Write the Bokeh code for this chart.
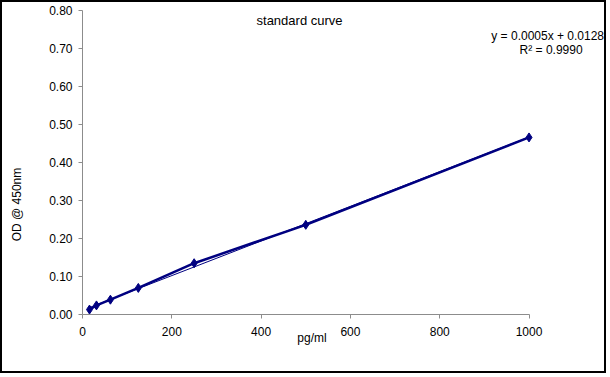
import numpy as np
from bokeh.plotting import figure
from bokeh.models import Range1d, Label, NumeralTickFormatter, FixedTicker
from bokeh.embed import file_html
from bokeh.resources import INLINE

# data
conc = [15.625, 31.25, 62.5, 125, 250, 500, 1000]
od = [0.013, 0.024, 0.039, 0.070, 0.135, 0.236, 0.466]
x_ticks = [0, 200, 400, 600, 800, 1000]
y_ticks = [0.0, 0.1, 0.2, 0.3, 0.4, 0.5, 0.6, 0.7, 0.8]
title_text = "standard curve"
eq_text = "y = 0.0005x + 0.0128"
r2_text = "R² = 0.9990"
x_label = "pg/ml"
y_label = "OD @ 450nm"

FONT = "Liberation Sans"
NAVY = "#000080"

p = figure(width=606, height=373, output_backend="svg", toolbar_location=None,
           x_range=Range1d(-179.2, 1178.0), y_range=Range1d(-0.1605, 0.8211),
           min_border_left=0, min_border_right=0, min_border_top=0, min_border_bottom=0)
p.styles = {"border": "2px solid black"}
p.outline_line_color = None
p.xgrid.visible = False
p.ygrid.visible = False
p.background_fill_color = "white"

for ax in (p.xaxis[0], p.yaxis[0]):
    ax.axis_line_color = "#8c8c8c"
    ax.major_tick_line_color = "#8c8c8c"
    ax.minor_tick_line_color = None
    ax.major_tick_in = 0
    ax.major_tick_out = 4
    ax.major_label_text_font = FONT
    ax.major_label_text_font_size = "12px"
    ax.major_label_text_color = "black"
    ax.fixed_location = 0

p.xaxis[0].ticker = FixedTicker(ticks=x_ticks)
p.xaxis[0].bounds = (x_ticks[0], x_ticks[-1])
p.yaxis[0].ticker = FixedTicker(ticks=y_ticks)
p.yaxis[0].bounds = (y_ticks[0], y_ticks[-1])
p.yaxis[0].formatter = NumeralTickFormatter(format="0.00")
p.xaxis[0].major_label_standoff = 8
p.yaxis[0].major_label_standoff = 6

# trendline from linear fit
coef = np.polyfit(conc, od, 1)
tx = [conc[0], conc[-1]]
ty = [coef[0] * v + coef[1] for v in tx]
p.line(tx, ty, line_color=NAVY, line_width=1)

p.line(conc, od, line_color=NAVY, line_width=2.5)
p.scatter(conc, od, marker="diamond", size=9, fill_color=NAVY, line_color=NAVY)

p.add_layout(Label(x=486, y=0.775, text=title_text, text_font=FONT, text_font_size="13px",
                   text_align="center", text_baseline="middle", text_color="black"))
p.add_layout(Label(x=1168, y=0.733, text=eq_text, text_font=FONT, text_font_size="12px",
                   text_align="right", text_baseline="middle", text_color="black"))
p.add_layout(Label(x=1120, y=0.697, text=r2_text, text_font=FONT, text_font_size="12px",
                   text_align="right", text_baseline="middle", text_color="black"))
p.add_layout(Label(x=514, y=-0.063, text=x_label, text_font=FONT, text_font_size="12px",
                   text_align="center", text_baseline="middle", text_color="black"))
p.add_layout(Label(x=-147.8, y=0.2895, text=y_label, text_font=FONT, text_font_size="12px",
                   text_align="center", text_baseline="middle", text_color="black",
                   angle=np.pi / 2))

open("out.html", "w").write(file_html(p, INLINE))
